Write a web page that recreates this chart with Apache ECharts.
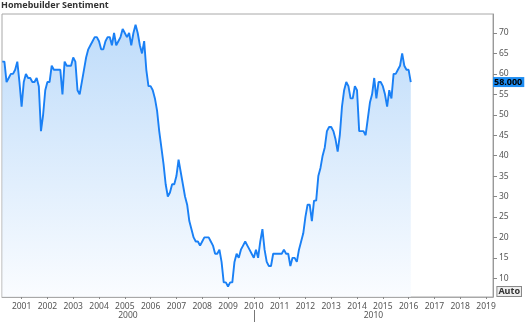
<!DOCTYPE html>
<html>
<head>
<meta charset="utf-8">
<script src="https://cdn.jsdelivr.net/npm/echarts@6/dist/echarts.min.js"></script>
<style>
html,body{margin:0;padding:0;background:#fff;}
#chart{width:525px;height:322px;}
</style>
</head>
<body>
<div id="chart"></div>
<script>
// NAHB Housing Market Index, monthly, April 2000 – February 2016
const firstYear = 2000;
const firstMonth = 4;
const hmi = [
  63, 63, 58, 59, 60, 60, 61, 63, 58,                 // 2000 Apr-Dec
  52, 58, 60, 59, 59, 58, 58, 59, 57, 46, 50, 56,     // 2001
  58, 58, 62, 61, 61, 61, 61, 55, 63, 62, 62, 62,     // 2002
  64, 63, 56, 55, 58, 61, 64, 66, 67, 68, 69, 69,     // 2003
  68, 66, 66, 68, 69, 69, 67, 70, 67, 68, 69, 71,     // 2004
  70, 69, 70, 67, 70, 72, 70, 67, 65, 68, 61, 57,     // 2005
  57, 56, 54, 51, 46, 42, 38, 33, 30, 31, 33, 33,     // 2006
  35, 39, 36, 33, 30, 28, 24, 22, 20, 19, 19, 18,     // 2007
  19, 20, 20, 20, 19, 18, 16, 16, 17, 14, 9, 9,       // 2008
  8, 9, 9, 14, 16, 15, 17, 18, 19, 18, 17, 16,        // 2009
  15, 17, 15, 19, 22, 17, 14, 13, 13, 16, 16, 16,     // 2010
  16, 16, 17, 16, 16, 13, 15, 15, 14, 17, 19, 21,     // 2011
  25, 28, 28, 24, 29, 29, 35, 37, 40, 42, 46, 47,     // 2012
  47, 46, 44, 41, 45, 52, 56, 58, 57, 54, 54, 57,     // 2013
  56, 46, 46, 46, 45, 49, 53, 55, 59, 54, 58, 58,     // 2014
  57, 55, 52, 56, 54, 60, 60, 61, 62, 65, 62, 61,     // 2015
  61, 58                                              // 2016 Jan-Feb
];
const yearTicks = [2001,2002,2003,2004,2005,2006,2007,2008,2009,2010,2011,2012,2013,2014,2015,2016,2017,2018,2019];
const valueTicks = [10,15,20,25,30,35,40,45,50,55,60,65,70];
const decades = ['2000', '2010'];
const decadeBoundary = 2010;
const xMin = 2000.24, xMax = 2019.27;
const yMin = 5.42, yMax = 74.65;

const seriesData = hmi.map((v, k) => {
  const m = firstMonth - 1 + k;
  return [firstYear + Math.floor(m / 12) + (m % 12) / 12, v];
});
const lastValue = hmi[hmi.length - 1];
const decadeCenters = [(xMin + decadeBoundary) / 2, (decadeBoundary + xMax) / 2];

const FONT = '"Noto Sans", "Open Sans", sans-serif';
const chart = echarts.init(document.getElementById('chart'), null, {renderer: 'canvas'});
chart.setOption({
  animation: false,
  backgroundColor: '#ffffff',
  title: {
    text: 'Homebuilder Sentiment',
    left: 1, top: 1, padding: 0,
    textStyle: {fontFamily: FONT, fontSize: 9, fontWeight: 'bold', color: '#333'}
  },
  grid: {
    left: 2, right: 32, top: 14, bottom: 25,
    show: true, borderColor: '#a8a8a8', borderWidth: 1, backgroundColor: 'transparent'
  },
  xAxis: [{
    type: 'value', min: xMin, max: xMax, position: 'bottom',
    axisLine: {show: true, lineStyle: {color: '#a8a8a8'}},
    axisTick: {show: true, length: 2, customValues: yearTicks, lineStyle: {color: '#888'}},
    axisLabel: {customValues: yearTicks, fontFamily: FONT, fontSize: 8.5, color: '#555', margin: 5,
      formatter: v => String(Math.round(v))},
    splitLine: {show: false}
  }, {
    type: 'value', min: xMin, max: xMax, position: 'bottom', offset: 13,
    axisLine: {show: false},
    axisTick: {show: true, length: 12, customValues: [decadeBoundary], lineStyle: {color: '#777'}},
    axisLabel: {customValues: decadeCenters, fontFamily: FONT, fontSize: 8.5, color: '#555', margin: 1,
      formatter: v => (v < decadeBoundary ? decades[0] : decades[1])},
    splitLine: {show: false}
  }],
  yAxis: {
    type: 'value', position: 'right', min: yMin, max: yMax,
    axisLine: {show: true, lineStyle: {color: '#999'}},
    axisTick: {show: true, length: 4, customValues: valueTicks, lineStyle: {color: '#888'}},
    axisLabel: {customValues: valueTicks, fontFamily: FONT, fontSize: 8.5, color: '#555', margin: 6},
    splitLine: {show: false}
  },
  series: [{
    type: 'line',
    data: seriesData,
    showSymbol: false,
    symbol: 'none',
    lineStyle: {color: '#1a80f5', width: 1.9},
    areaStyle: {
      origin: 'start',
      color: new echarts.graphic.LinearGradient(0, 0, 0, 1, [
        {offset: 0, color: '#a3cdf8'},
        {offset: 1, color: '#f8fbff'}
      ])
    },
    markLine: {
      silent: true, symbol: 'none',
      lineStyle: {color: 'rgba(0,0,0,0)', width: 1, type: 'solid'},
      label: {
        show: true, position: 'end', distance: 0,
        formatter: () => lastValue.toFixed(3),
        backgroundColor: '#1c8cf2', color: '#000', fontFamily: FONT,
        fontSize: 9, fontWeight: 'bold', padding: [1, 2, 0, 1]
      },
      data: [{yAxis: lastValue}]
    }
  }],
  graphic: [{
    type: 'text', right: 3, bottom: 25,
    style: {
      text: 'Auto', fontFamily: FONT, fontSize: 9, fontWeight: 'bold', fill: '#333',
      backgroundColor: '#eeeeee', borderColor: '#888', borderWidth: 1, padding: [0, 1, 0, 1]
    }
  }]
});
</script>
</body>
</html>
